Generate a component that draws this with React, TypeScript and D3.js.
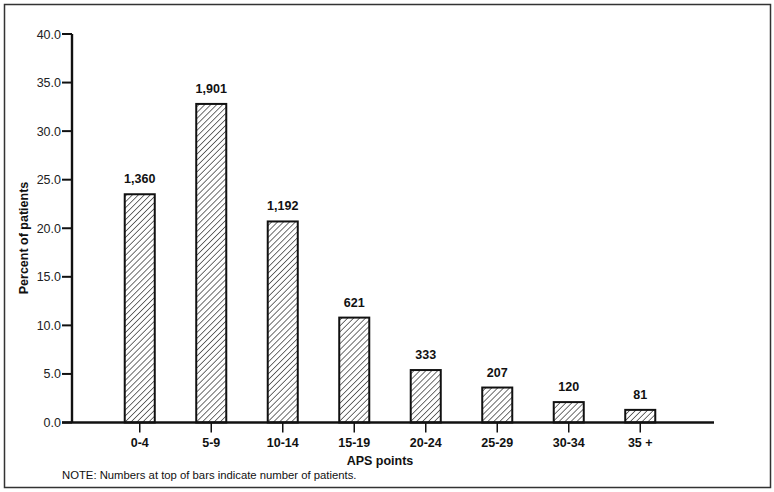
import { useEffect, useRef } from "react";
import * as d3 from "d3";

const categories = ["0-4", "5-9", "10-14", "15-19", "20-24", "25-29", "30-34", "35 +"];
const percents = [23.5, 32.8, 20.7, 10.8, 5.4, 3.6, 2.1, 1.3];
const patientCounts = ["1,360", "1,901", "1,192", "621", "333", "207", "120", "81"];
const yTicks = [0, 5, 10, 15, 20, 25, 30, 35, 40];

const FONT = "'Liberation Sans', Arial, Helvetica, sans-serif";

export default function App() {
  const ref = useRef<SVGSVGElement | null>(null);

  useEffect(() => {
    if (!ref.current) return;
    const width = 774;
    const height = 492;
    const svg = d3.select(ref.current);
    svg.selectAll("*").remove();
    svg.attr("width", width).attr("height", height);

    // hatch pattern for the bars
    const defs = svg.append("defs");
    const pat = defs
      .append("pattern")
      .attr("id", "hatch")
      .attr("patternUnits", "userSpaceOnUse")
      .attr("width", 4.2)
      .attr("height", 4.2)
      .attr("patternTransform", "rotate(45)");
    pat.append("rect").attr("width", 4.2).attr("height", 4.2).attr("fill", "white");
    pat
      .append("line")
      .attr("x1", 0)
      .attr("y1", 0)
      .attr("x2", 0)
      .attr("y2", 4.2)
      .attr("stroke", "#111")
      .attr("stroke-width", 1.2);

    svg.append("rect").attr("width", width).attr("height", height).attr("fill", "white");

    // outer frame
    svg
      .append("rect")
      .attr("x", 4.5)
      .attr("y", 4.5)
      .attr("width", 766)
      .attr("height", 483)
      .attr("fill", "none")
      .attr("stroke", "#333")
      .attr("stroke-width", 1.5);

    const axisX = 72;
    const y = d3.scaleLinear().domain([0, 40]).range([422.5, 34]);
    const x = d3.scaleBand().domain(categories).range([104, 676]).paddingInner(0.58).paddingOuter(0.29);

    // y axis
    svg
      .append("line")
      .attr("x1", axisX)
      .attr("x2", axisX)
      .attr("y1", y(40))
      .attr("y2", y(0))
      .attr("stroke", "#111")
      .attr("stroke-width", 2.4);

    const yt = svg.append("g").selectAll("g").data(yTicks).join("g");
    yt.append("line")
      .attr("x1", axisX - 10)
      .attr("x2", axisX)
      .attr("y1", (d) => y(d))
      .attr("y2", (d) => y(d))
      .attr("stroke", "#111")
      .attr("stroke-width", 2);
    yt.append("text")
      .attr("x", axisX - 11)
      .attr("y", (d) => y(d) + 4.5)
      .attr("text-anchor", "end")
      .style("font-family", FONT)
      .style("font-size", "12.5px")
      .attr("fill", "#222")
      .text((d) => d.toFixed(1));

    // bars
    const bars = svg.append("g").selectAll("g").data(categories).join("g");
    bars
      .append("rect")
      .attr("x", (d) => x(d)!)
      .attr("y", (d, i) => y(percents[i]))
      .attr("width", x.bandwidth())
      .attr("height", (d, i) => y(0) - y(percents[i]))
      .attr("fill", "url(#hatch)")
      .attr("stroke", "#111")
      .attr("stroke-width", 2);
    bars
      .append("text")
      .attr("x", (d) => x(d)! + x.bandwidth() / 2)
      .attr("y", (d, i) => y(percents[i]) - 11)
      .attr("text-anchor", "middle")
      .style("font-family", FONT)
      .style("font-size", "12.5px")
      .style("font-weight", "bold")
      .attr("fill", "#111")
      .text((d, i) => patientCounts[i]);

    // x axis
    svg
      .append("line")
      .attr("x1", 62)
      .attr("x2", 714)
      .attr("y1", y(0))
      .attr("y2", y(0))
      .attr("stroke", "#111")
      .attr("stroke-width", 2.6);
    const xt = svg.append("g").selectAll("g").data(categories).join("g");
    xt.append("line")
      .attr("x1", (d) => x(d)! + x.bandwidth() / 2)
      .attr("x2", (d) => x(d)! + x.bandwidth() / 2)
      .attr("y1", y(0))
      .attr("y2", y(0) + 10)
      .attr("stroke", "#111")
      .attr("stroke-width", 1.5);
    xt.append("text")
      .attr("x", (d) => x(d)! + x.bandwidth() / 2)
      .attr("y", y(0) + 24)
      .attr("text-anchor", "middle")
      .style("font-family", FONT)
      .style("font-size", "12.5px")
      .style("font-weight", "bold")
      .attr("fill", "#111")
      .text((d) => d);

    svg
      .append("text")
      .attr("x", 380)
      .attr("y", 465)
      .attr("text-anchor", "middle")
      .style("font-family", FONT)
      .style("font-size", "12.5px")
      .style("font-weight", "bold")
      .attr("fill", "#111")
      .text("APS points");

    svg
      .append("text")
      .attr("x", 62)
      .attr("y", 479)
      .style("font-family", FONT)
      .style("font-size", "11.3px")
      .attr("fill", "#111")
      .text("NOTE: Numbers at top of bars indicate number of patients.");

    svg
      .append("text")
      .attr("transform", "translate(28, 238) rotate(-90)")
      .attr("text-anchor", "middle")
      .style("font-family", FONT)
      .style("font-size", "12.5px")
      .style("font-weight", "bold")
      .attr("fill", "#111")
      .text("Percent of patients");
  }, []);

  return (
    <div style={{ position: "absolute", left: 0, top: 0 }}>
      <svg ref={ref} role="img" aria-label="Percent of patients by APS points" />
    </div>
  );
}
